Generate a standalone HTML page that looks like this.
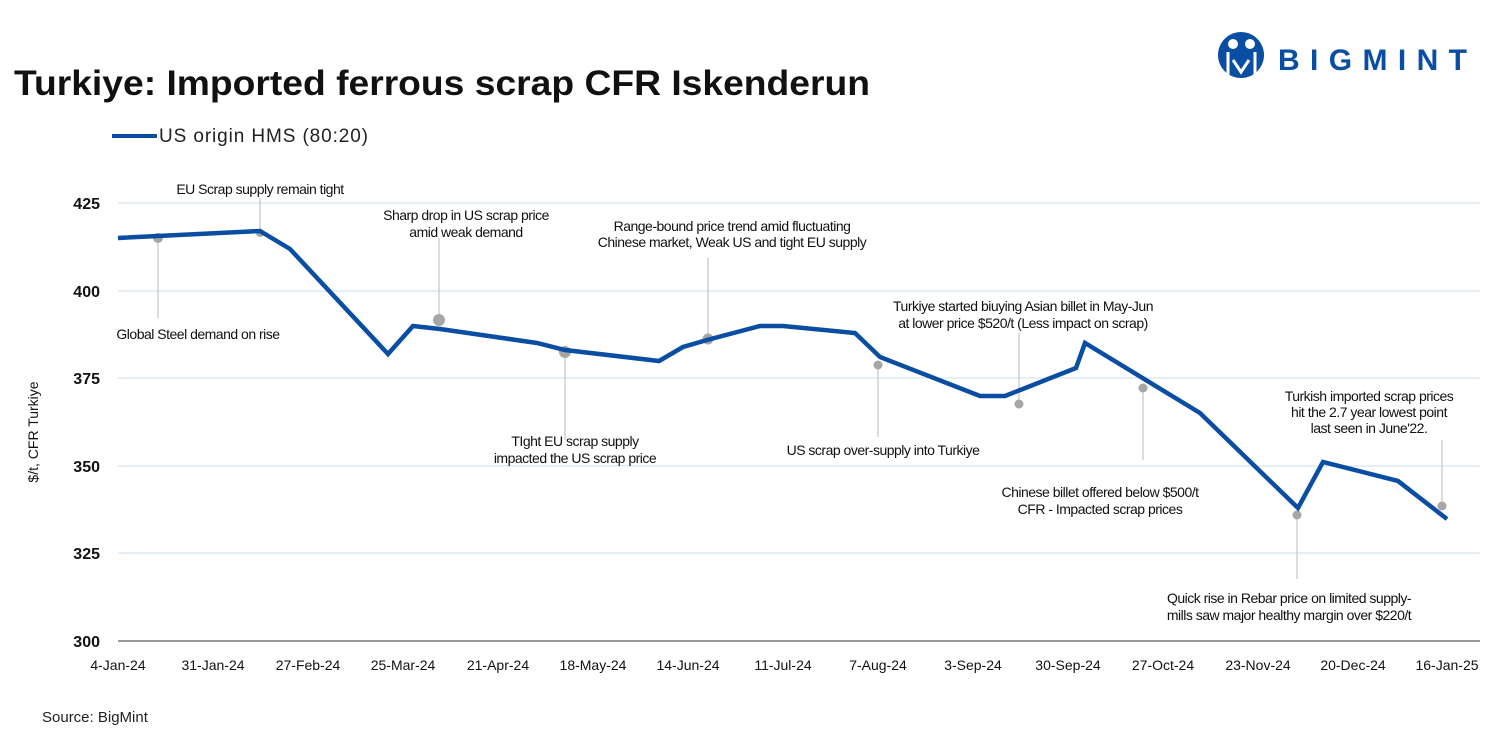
<!DOCTYPE html>
<html><head><meta charset="utf-8"><style>
body{margin:0;background:#fff;}
svg{display:block;font-family:"Liberation Sans",Arial,sans-serif;}
.a{font-size:14px;fill:#111;letter-spacing:-0.5px;text-anchor:middle}
.t{font-size:14px;fill:#111;text-anchor:middle}
.y{font-size:16px;font-weight:bold;fill:#111;text-anchor:end}
.ld{stroke:#c8c8c8;stroke-width:1.3}
.d{fill:#a6a6a6}
</style></head><body>
<svg width="1502" height="750" viewBox="0 0 1502 750">
<text x="14" y="95" font-size="35" font-weight="bold" fill="#111" textLength="856" lengthAdjust="spacingAndGlyphs">Turkiye: Imported ferrous scrap CFR Iskenderun</text>
<!-- logo -->
<circle cx="1241" cy="55" r="23" fill="#0a4ea3"/>
<circle cx="1233" cy="44" r="5" fill="#fff"/><circle cx="1250" cy="44" r="5" fill="#fff"/>
<path d="M1228 52 L1228 76 M1255 52 L1255 76 M1233 60 L1241 72 L1249 60" stroke="#fff" stroke-width="3" fill="none"/>
<text x="1278" y="70" font-size="30" font-weight="bold" fill="#0a4ea3" textLength="189" lengthAdjust="spacing">BIGMINT</text>
<!-- legend -->
<line x1="112" y1="136" x2="157" y2="136" stroke="#0a4ea3" stroke-width="4"/>
<text x="159" y="142" font-size="19" fill="#222" textLength="209">US origin HMS (80:20)</text>
<!-- grid -->
<g stroke="#d6e4f0" stroke-width="1.2">
<line x1="118" y1="203" x2="1480" y2="203"/><line x1="118" y1="291" x2="1480" y2="291"/>
<line x1="118" y1="378" x2="1480" y2="378"/><line x1="118" y1="466" x2="1480" y2="466"/>
<line x1="118" y1="553" x2="1480" y2="553"/></g>
<line x1="118" y1="641" x2="1480" y2="641" stroke="#333" stroke-width="1"/>
<g class="y"><text x="100" y="209">425</text><text x="100" y="297">400</text><text x="100" y="384">375</text><text x="100" y="472">350</text><text x="100" y="559">325</text><text x="100" y="647">300</text></g>
<text transform="translate(38,432) rotate(-90)" font-size="14" fill="#111" text-anchor="middle">$/t, CFR Turkiye</text>
<g class="t">
<text x="118" y="670">4-Jan-24</text><text x="213" y="670">31-Jan-24</text><text x="308" y="670">27-Feb-24</text><text x="403" y="670">25-Mar-24</text><text x="498" y="670">21-Apr-24</text><text x="593" y="670">18-May-24</text><text x="688" y="670">14-Jun-24</text><text x="783" y="670">11-Jul-24</text><text x="878" y="670">7-Aug-24</text><text x="973" y="670">3-Sep-24</text><text x="1068" y="670">30-Sep-24</text><text x="1163" y="670">27-Oct-24</text><text x="1258" y="670">23-Nov-24</text><text x="1353" y="670">20-Dec-24</text><text x="1447" y="670">16-Jan-25</text></g>
<!-- leaders -->
<g class="ld">
<line x1="158" y1="238" x2="158" y2="318"/><line x1="260" y1="233" x2="260" y2="198"/>
<line x1="439" y1="320" x2="439" y2="238"/><line x1="565" y1="352" x2="565" y2="440"/>
<line x1="708" y1="339" x2="708" y2="258"/><line x1="1019" y1="404" x2="1019" y2="333"/>
<line x1="878" y1="365" x2="878" y2="437"/><line x1="1143" y1="388" x2="1143" y2="460"/>
<line x1="1297" y1="515" x2="1297" y2="579"/><line x1="1442" y1="506" x2="1442" y2="440"/></g>
<g class="d">
<circle cx="158" cy="238" r="5"/><circle cx="260" cy="233" r="4"/><circle cx="439" cy="320" r="6"/>
<circle cx="565" cy="352" r="6"/><circle cx="708" cy="339" r="5.5"/><circle cx="1019" cy="404" r="4.5"/>
<circle cx="878" cy="365" r="4.5"/><circle cx="1143" cy="388" r="4.5"/><circle cx="1297" cy="515" r="4.5"/><circle cx="1442" cy="506" r="4.5"/></g>
<polyline fill="none" stroke="#0a4ea3" stroke-width="4.5" stroke-linejoin="miter" points="118,238 260,231 290,249 388,354 413,326 440,329 537,343 565,350 659,361 683,347 707,340 760,326 783,326 855,333 880,357 980,396 1005,396 1076,368 1085,343 1200,413 1298,508 1323,462 1398,481 1447,519"/>
<g class="a">
<text x="198" y="339">Global Steel demand on rise</text>
<text x="260" y="194">EU Scrap supply remain tight</text>
<text x="466" y="220">Sharp drop in US scrap price</text><text x="466" y="237">amid weak demand</text>
<text x="575" y="446">TIght EU scrap supply</text><text x="575" y="463">impacted the US scrap price</text>
<text x="732" y="231">Range-bound price trend amid fluctuating</text><text x="732" y="247">Chinese market, Weak US and tight EU supply</text>
<text x="1023" y="311">Turkiye started biuying Asian billet in May-Jun</text><text x="1023" y="328">at lower price $520/t (Less impact on scrap)</text>
<text x="883" y="455">US scrap over-supply into Turkiye</text>
<text x="1100" y="497">Chinese billet offered below $500/t</text><text x="1100" y="514">CFR - Impacted scrap prices</text>
<text x="1289" y="603">Quick rise in Rebar price on limited supply-</text><text x="1289" y="620">mills saw major healthy margin over $220/t</text>
<text x="1369" y="401">Turkish imported scrap prices</text><text x="1369" y="417">hit the 2.7 year lowest point</text><text x="1369" y="433">last seen in June'22.</text>
</g>
<text x="42" y="722" font-size="15" fill="#222">Source: BigMint</text>
</svg>
</body></html>
